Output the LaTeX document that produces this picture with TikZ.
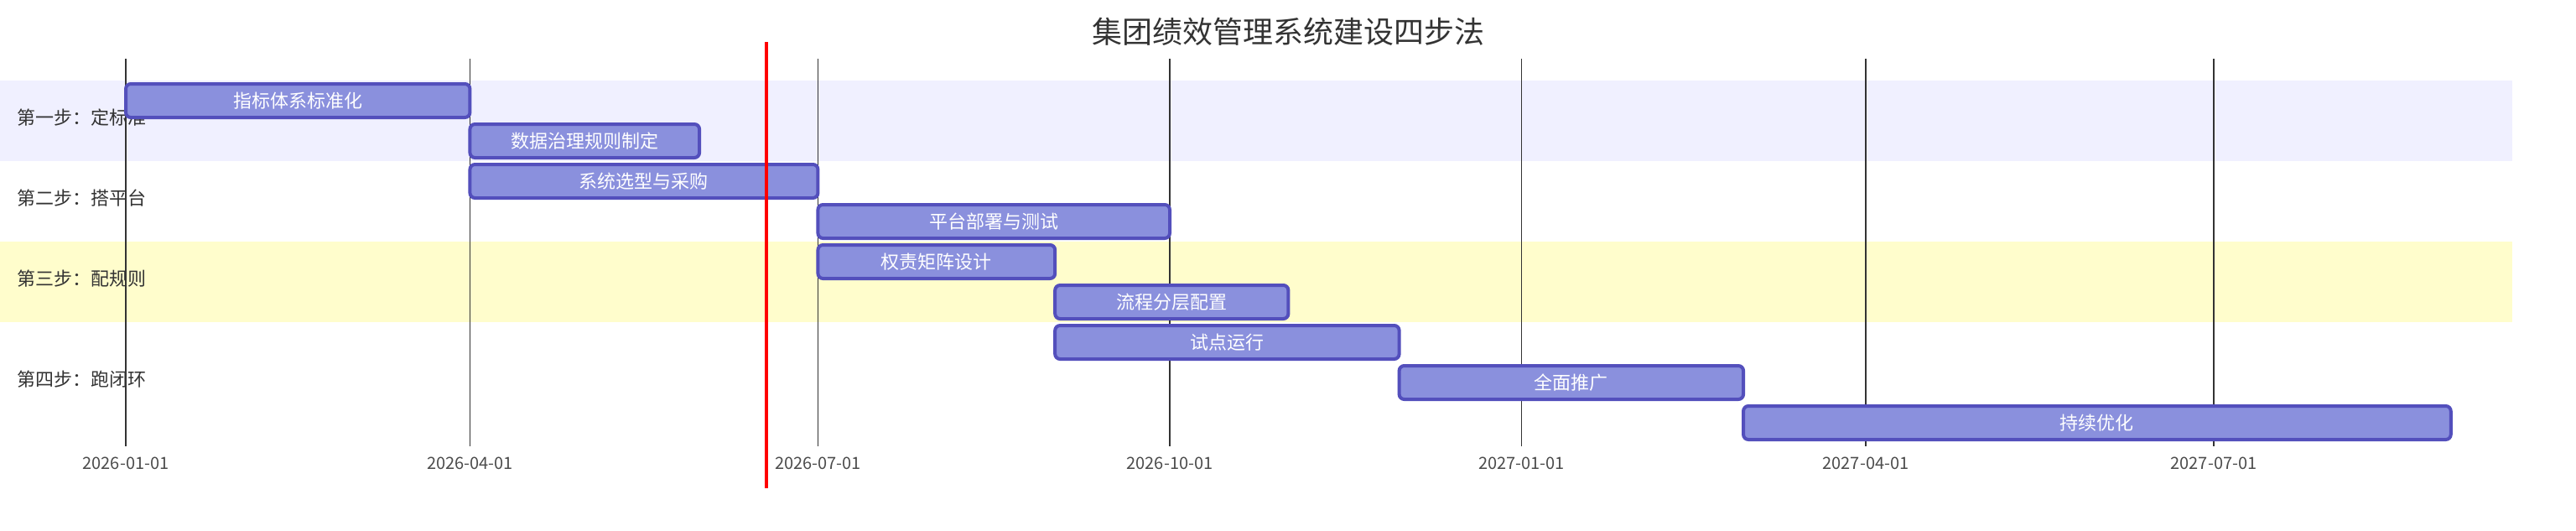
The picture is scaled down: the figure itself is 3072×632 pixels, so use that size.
\documentclass[tikz,border=0pt]{standalone}
\usepackage{fontspec}
\setmainfont{Noto Sans CJK SC}
\definecolor{barfill}{HTML}{8A90DD}
\definecolor{barline}{HTML}{534FBC}
\definecolor{bandone}{RGB}{240,240,255}
\definecolor{bandthree}{RGB}{255,253,204}
\definecolor{txt}{HTML}{333333}
\definecolor{gridline}{HTML}{333333}

\begin{document}
\begin{tikzpicture}[
  x=0.5pt, y=-0.5pt,
  task/.style={draw=barline,fill=barfill,line width=2pt,rounded corners=3pt,anchor=west,
    minimum height=20pt,inner sep=0pt,outer sep=0pt,text=white,font=\fontsize{11}{13}\selectfont},
  phase/.style={anchor=west,inner sep=0pt,text=txt,font=\fontsize{11}{13}\selectfont},
  tick/.style={inner sep=0pt,text=black!70,font=\fontsize{10}{12}\selectfont},
  grid/.style={draw=gridline,line width=0.8pt}
]
  \useasboundingbox (0,0) rectangle (3072,632);
  \fill[bandone] (0,96) rectangle (2996,192);
  \fill[bandthree] (0,288) rectangle (2996,384);
  \node[text=txt,font=\fontsize{18}{22}\selectfont] (title) at (1536,38) {集团绩效管理系统建设四步法};
  \foreach \d/\l [count=\k] in {0/2026-01-01,90/2026-04-01,181/2026-07-01,273/2026-10-01,
      365/2027-01-01,455/2027-04-01,546/2027-07-01}{
    \node[tick] (d\k) at ({150+4.5604*\d},552) {\l};
    \draw[grid] ({150+4.5604*\d},70) -- ({150+4.5604*\d},532);
  }
  \node[phase] (p1) at (20,140) {第一步：定标准};
  \node[phase] (p2) at (20,236) {第二步：搭平台};
  \node[phase] (p3) at (20,332) {第三步：配规则};
  \node[phase] (p4) at (20,452) {第四步：跑闭环};
  \foreach \s/\e/\t [count=\i] in {0/90/指标体系标准化,90/150/数据治理规则制定,90/181/系统选型与采购,
      181/273/平台部署与测试,181/243/权责矩阵设计,243/304/流程分层配置,243/333/试点运行,
      333/423/全面推广,423/608/持续优化}
    \node[task,minimum width={(\e-\s)*2.2802pt}] (t\i) at ({150+4.5604*\s},{120+48*(\i-1)}) {\t};
  \coordinate (now top) at (914,50);
  \coordinate (now bottom) at (914,582);
  \draw[red,line width=2pt] (now top) -- (now bottom);
\end{tikzpicture}
\end{document}
